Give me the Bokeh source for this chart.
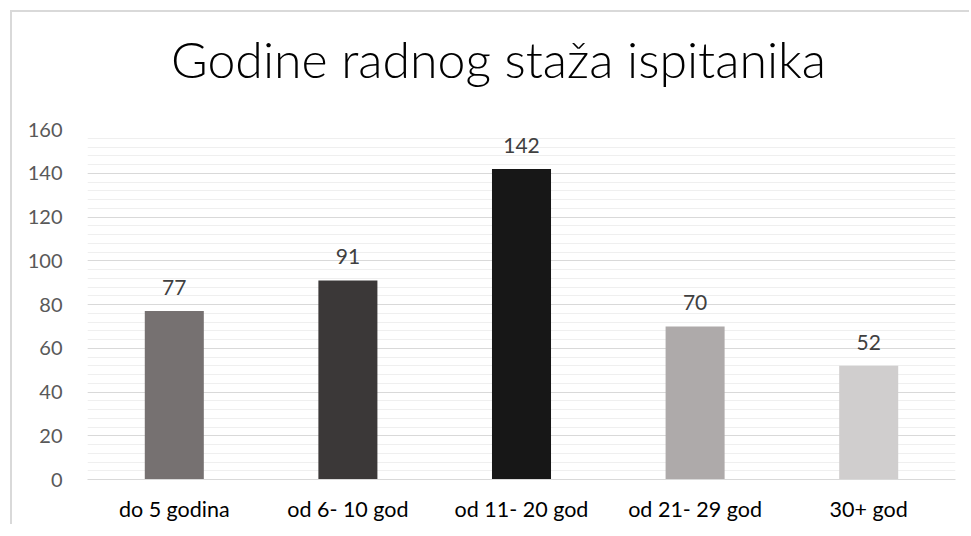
from bokeh.plotting import figure
from bokeh.layouts import column, row
from bokeh.models import ColumnDataSource, FactorRange, Range1d, SingleIntervalTicker, LabelSet, Div, Spacer
from bokeh.embed import file_html
from bokeh.resources import INLINE
from bokeh.core.properties import value

categories = ["do 5 godina", "od 6- 10 god", "od 11- 20 god", "od 21- 29 god", "30+ god"]
counts = [77, 91, 142, 70, 52]
bar_colors = ["#767171", "#3b3838", "#171717", "#aeaaaa", "#d0cece"]
title_text = "Godine radnog staža ispitanika"
y_min, y_max, y_step = 0, 160, 20

FONT = "Lato"
BORDER = "#d9d9d9"

src = ColumnDataSource(dict(cat=categories, val=counts, color=bar_colors,
                            label=[str(v) for v in counts]))

title = Div(text=('<div style="padding:22px 0 0 159px; font-family:\'Lato Light\', Lato; '
                  'font-size:50px; line-height:50px; color:#000000; white-space:nowrap;">'
                  + title_text + '</div>'),
            width=945, height=97, margin=0)

p = figure(width=945, height=415,
           x_range=FactorRange(*categories, range_padding=0),
           y_range=Range1d(y_min, y_max),
           output_backend="svg", toolbar_location=None,
           min_border_left=75, min_border_right=2, min_border_top=20, min_border_bottom=45)
p.margin = 0
p.outline_line_color = None
p.background_fill_color = "white"
p.border_fill_color = "white"

p.vbar(x="cat", top="val", width=0.34, fill_color="color", line_color=None, source=src)

labels = LabelSet(x="cat", y="val", text="label", source=src, y_offset=16,
                  text_align="center", text_baseline="alphabetic",
                  text_font=value(FONT), text_font_size=value("21px"), text_color=value("#404040"))
p.add_layout(labels)

ticker = SingleIntervalTicker(interval=y_step, num_minor_ticks=5)
p.yaxis.ticker = ticker
p.ygrid.ticker = ticker
p.ygrid.grid_line_color = "#d9d9d9"
p.ygrid.grid_line_width = 1
p.ygrid.minor_grid_line_color = "#efefef"
p.ygrid.minor_grid_line_width = 1
p.xgrid.grid_line_color = None

p.yaxis.axis_line_color = None
p.yaxis.major_tick_line_color = None
p.yaxis.minor_tick_line_color = None
p.yaxis.major_label_standoff = 19
p.yaxis.major_label_text_font = FONT
p.yaxis.major_label_text_font_size = "20px"
p.yaxis.major_label_text_color = "#595959"

p.xaxis.axis_line_color = "#d9d9d9"
p.xaxis.major_tick_line_color = None
p.xaxis.minor_tick_line_color = None
p.xaxis.major_label_standoff = 10
p.xaxis.major_label_text_font = FONT
p.xaxis.major_label_text_font_size = "21.5px"
p.xaxis.major_label_text_color = "#000000"

# chart box border (top and left edges) drawn as thin grey blocks
top_border = Div(text="", width=959, height=2, margin=0,
                 styles={"background-color": BORDER})
left_border = Div(text="", width=2, height=512, margin=0,
                  styles={"background-color": BORDER})

chart = column(title, p, spacing=0)
boxed = column(top_border, row(left_border, chart, spacing=0), spacing=0)
layout = column(Spacer(width=10, height=10, margin=0),
                row(Spacer(width=10, height=10, margin=0), boxed, spacing=0),
                spacing=0)

open("out.html", "w").write(file_html(layout, INLINE))
